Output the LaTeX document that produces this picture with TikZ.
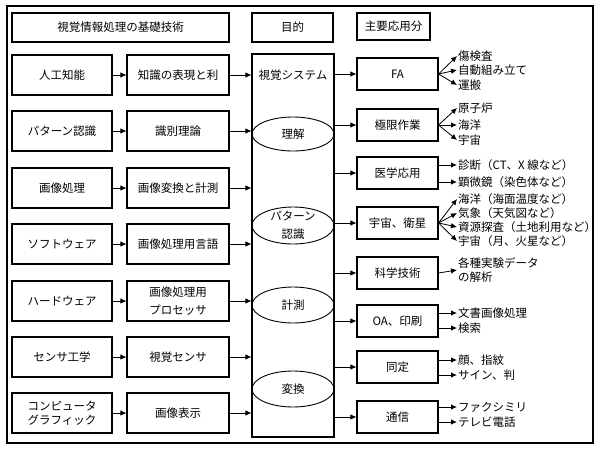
\documentclass[tikz,border=0pt]{standalone}
\usepackage{fontspec}
\setmainfont{Noto Sans CJK JP}
\usepackage{tikz}
\usetikzlibrary{arrows.meta,shapes.geometric}

\begin{document}
\begin{tikzpicture}[x=1pt,y=-1pt,
    every node/.style={font=\fontsize{11.5}{14}\selectfont,inner sep=0pt,align=center},
    plainbox/.style={draw,line width=1.1pt,minimum height=40pt},
    techbox/.style={plainbox,minimum width=100pt},
    methbox/.style={plainbox,minimum width=102pt},
    appbox/.style={plainbox,minimum width=81pt,minimum height=32pt},
    headbox/.style={draw,line width=1.1pt,minimum height=29pt},
    goalellipse/.style={draw,ellipse,line width=0.9pt,minimum width=82pt,minimum height=34pt},
    uselabel/.style={anchor=west,inner sep=1pt,align=left},
    arr/.style={-{Latex[length=6pt,width=5.5pt]},line width=0.8pt}]
    \useasboundingbox (0,0) rectangle (600,450);
    \draw[line width=1.1pt] (7,6) rectangle (593,443);

    \node[headbox,minimum width=217pt] (hbase) at (120.5,27.5) {視覚情報処理の基礎技術};
    \node[headbox,minimum width=81pt] (hgoal) at (292.5,27.5) {目的};
    \node[headbox,minimum width=73pt,minimum height=27pt] (happ) at (393.5,26.5) {主要応用分};

    \node[draw,line width=1.1pt,minimum width=82pt,minimum height=383pt] (purpose) at (293,245.5) {};
    \node (vis) at (293,75) {視覚システム};
    \node[goalellipse] (und) at (293,134) {理解};
    \node[goalellipse,minimum height=37pt,inner ysep=-3pt] (pat) at (293,225.5) {パターン\\[4pt]認識};
    \node[goalellipse,minimum height=36pt] (meas) at (293,305) {計測};
    \node[goalellipse,minimum height=36pt] (conv) at (293,389) {変換};

    \foreach \i/\y/\tech/\meth in {1/75/人工知能/知識の表現と利, 2/131/パターン認識/識別理論,
        3/188/画像処理/画像変換と計測, 4/244/ソフトウェア/画像処理用言語,
        5/301/ハードウェア/{画像処理用\\[4pt]プロセッサ}, 6/357/センサ工学/視覚センサ,
        7/413/{コンピュータ\\グラフィック}/画像表示} {
        \node[techbox] (t\i) at (62,\y) {\tech};
        \node[methbox] (m\i) at (178,\y) {\meth};
        \draw[arr] (t\i) -- (m\i);
        \draw[arr] (m\i) -- (m\i -| purpose.west);
    }

    \foreach \n/\y/\txt in {fa/74/FA, ext/125/極限作業, med/173/医学応用, sat/223/宇宙、衛星,
        sci/273/科学技術, oa/321/OA、印刷, idn/367/同定, com/417/通信} {
        \node[appbox] (\n) at (397.5,\y) {\txt};
        \draw[arr] (purpose.east |- \n) -- (\n);
    }

    \node[uselabel] (fa1) at (457,56) {傷検査};
    \node[uselabel] (fa2) at (457,70) {自動組み立て};
    \node[uselabel] (fa3) at (457,85) {運搬};
    \node[uselabel] (ext1) at (457,108) {原子炉};
    \node[uselabel] (ext2) at (457,125) {海洋};
    \node[uselabel] (ext3) at (457,140) {宇宙};
    \node[uselabel] (med1) at (457,165) {診断（CT、X 線など）};
    \node[uselabel] (med2) at (457,182) {顕微鏡（染色体など）};
    \node[uselabel] (sat1) at (457,199) {海洋（海面温度など）};
    \node[uselabel] (sat2) at (457,213) {気象（天気図など）};
    \node[uselabel] (sat3) at (457,227) {資源探査（土地利用など）};
    \node[uselabel] (sat4) at (457,241) {宇宙（月、火星など）};
    \node[uselabel] (sci1) at (457,270) {各種実験データ\\の解析};
    \node[uselabel] (oa1) at (457,313) {文書画像処理};
    \node[uselabel] (oa2) at (457,328) {検索};
    \node[uselabel] (idn1) at (457,360) {顔、指紋};
    \node[uselabel] (idn2) at (457,375) {サイン、判};
    \node[uselabel] (com1) at (457,407) {ファクシミリ};
    \node[uselabel] (com2) at (457,422) {テレビ電話};

    \foreach \k in {1,2,3} {
        \draw[arr] (fa.east) -- (fa\k.west);
        \draw[arr] (ext.east) -- (ext\k.west);
    }
    \foreach \k in {1,2,3,4}
        \draw[arr] (sat.east) -- (sat\k.west);
    \draw[arr] (sci.east) -- (sci1.west);
    \foreach \n in {med,oa,idn,com} {
        \draw[arr] (\n.east |- \n1) -- (\n1.west);
        \draw[arr] (\n.east |- \n2) -- (\n2.west);
    }
\end{tikzpicture}
\end{document}
